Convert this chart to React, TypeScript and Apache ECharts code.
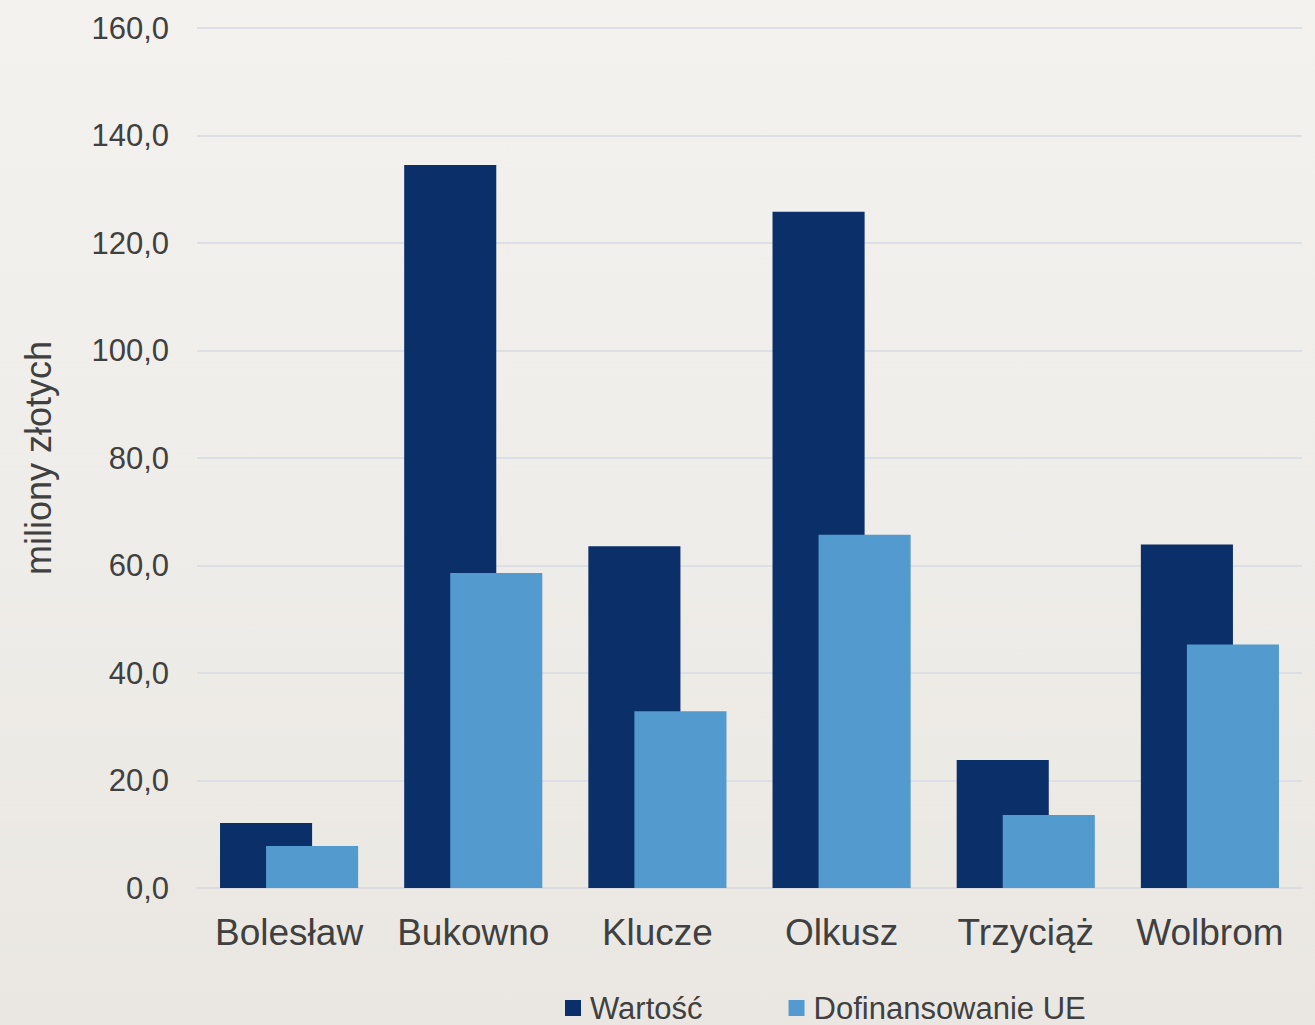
import React, { useEffect, useRef } from "react";
import * as echarts from "echarts";

const categories = ["Bolesław", "Bukowno", "Klucze", "Olkusz", "Trzyciąż", "Wolbrom"];
const wartosc = [12.1, 134.5, 63.6, 125.8, 23.8, 63.9];
const dofinansowanie = [7.8, 58.6, 32.9, 65.7, 13.6, 45.3];
const seriesNames = ["Wartość", "Dofinansowanie UE"];
const yAxisName = "miliony złotych";

export default function App() {
  const ref = useRef<HTMLDivElement>(null);
  useEffect(() => {
    if (!ref.current) return;
    const chart = echarts.init(ref.current, null, { renderer: "svg" });
    const font = "'Liberation Sans', Arial, sans-serif";
    chart.setOption({
      animation: false,
      backgroundColor: "transparent",
      textStyle: { fontFamily: font },
      grid: { left: 197, right: 13, top: 28, bottom: 137, containLabel: false },
      legend: {
        data: seriesNames,
        left: 560,
        top: 986,
        icon: "rect",
        itemWidth: 16,
        itemHeight: 16,
        itemGap: 86,
        textStyle: { fontSize: 31, color: "#404040", fontFamily: font, padding: [0, 0, 0, 4], lineHeight: 34 },
      },
      xAxis: {
        type: "category",
        data: categories,
        axisLine: { show: true, lineStyle: { color: "#dcdde0", width: 2 } },
        axisTick: { show: false },
        axisLabel: { fontSize: 37, color: "#404040", margin: 26, fontFamily: font, interval: 0 },
      },
      yAxis: {
        type: "value",
        min: 0,
        max: 160,
        interval: 20,
        name: yAxisName,
        nameLocation: "middle",
        nameGap: 141,
        nameTextStyle: { fontSize: 36, color: "#404040", fontFamily: font },
        axisLine: { show: false },
        axisTick: { show: false },
        splitLine: { lineStyle: { color: "#dcdfe4", width: 2 } },
        axisLabel: {
          fontSize: 31,
          color: "#404040",
          margin: 28,
          fontFamily: font,
          formatter: (v: number) => v.toFixed(1).replace(".", ","),
        },
      },
      series: [
        {
          name: seriesNames[0],
          type: "bar",
          data: wartosc,
          barWidth: "50%",
          barGap: "-50%",
          itemStyle: { color: "#0a2f69" },
        },
        {
          name: seriesNames[1],
          type: "bar",
          data: dofinansowanie,
          barWidth: "50%",
          barGap: "-50%",
          itemStyle: { color: "#539bcf" },
        },
      ],
    });
    return () => chart.dispose();
  }, []);
  return (
    <div
      style={{
        position: "fixed",
        left: 0,
        top: 0,
        width: 1315,
        height: 1025,
        background: "linear-gradient(180deg, #f4f2ee 0%, #efede9 50%, #eae7e2 100%)",
      }}
    >
      <div ref={ref} style={{ width: 1315, height: 1025 }} />
    </div>
  );
}
